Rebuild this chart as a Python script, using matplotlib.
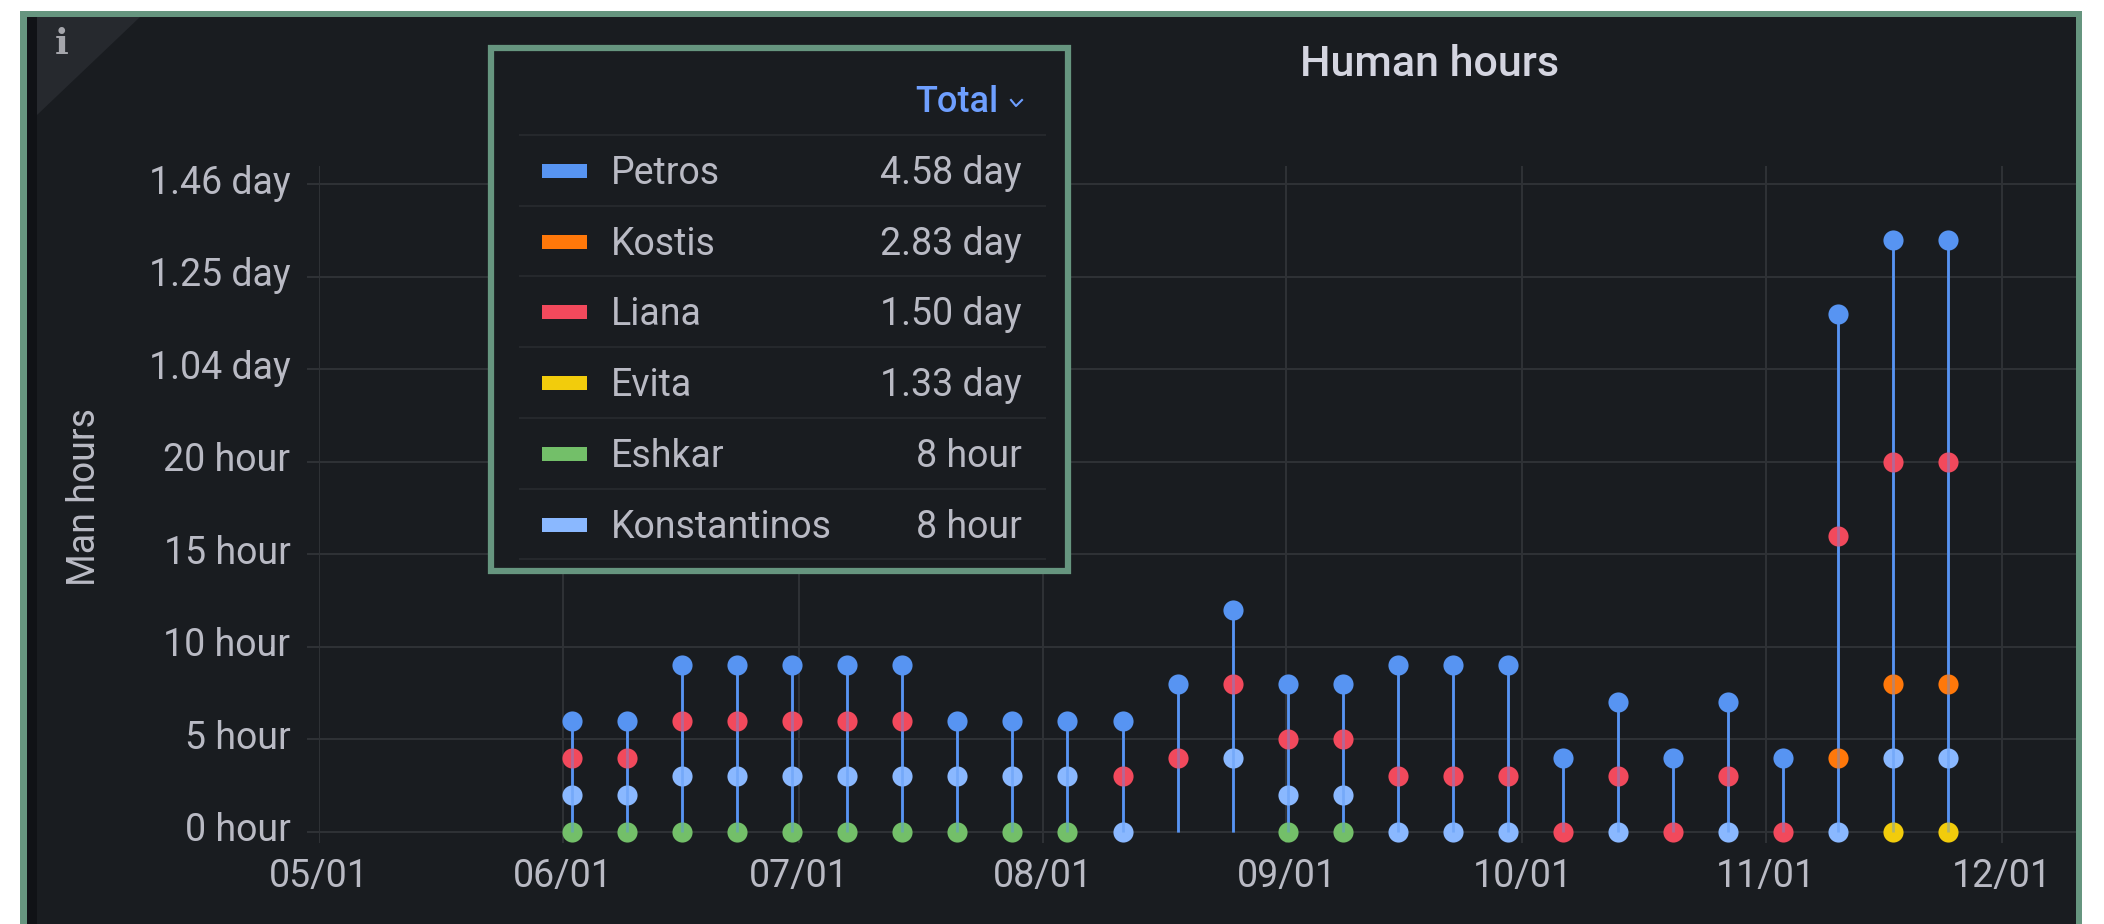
import matplotlib
matplotlib.use('Agg')
import matplotlib.dates as mdates
import matplotlib.pyplot as plt
import numpy as np
import pandas as pd
from matplotlib.patches import Polygon, Rectangle
from matplotlib.transforms import ScaledTranslation

plt.rcParams['font.family'] = ['Roboto', 'DejaVu Sans']

WIDTH, HEIGHT = 2104, 924

n = np.nan
weeks = pd.date_range('2022-06-02 04:00', periods=26, freq='7D')
petros = [6, 6, 9, 9, 9, 9, 9, 6, 6, 6, 6, 8, 12, 8, 8, 9, 9, 9, 4, 7, 4, 7, 4, 28, 32, 32]
kostis = [n, n, n, n, n, n, n, n, n, n, n, n, n, n, n, n, n, n, n, n, n, n, n, 4, 8, 8]
liana = [4, 4, 6, 6, 6, 6, 6, n, n, n, 3, 4, 8, 5, 5, 3, 3, 3, 0, 3, 0, 3, 0, 16, 20, 20]
evita = [n, n, n, n, n, n, n, n, n, n, n, n, n, n, n, n, n, n, n, n, n, n, n, n, 0, 0]
eshkar = [0, 0, 0, 0, 0, 0, 0, 0, 0, 0, n, n, n, 0, 0, n, n, n, n, n, n, n, n, n, n, n]
konstantinos = [2, 2, 3, 3, 3, 3, 3, 3, 3, 3, 0, n, 4, 2, 2, 0, 0, 0, n, 0, n, 0, n, 0, 4, 4]

names = ['Petros', 'Kostis', 'Liana', 'Evita', 'Eshkar', 'Konstantinos']
totals = ['4.58 day', '2.83 day', '1.50 day', '1.33 day', '8 hour', '8 hour']
colors = ['#5794F2', '#FF780A', '#F2495C', '#F2CC0C', '#73BF69', '#8AB8FF']

y_ticks = [0, 5, 10, 15, 20, 25, 30, 35]
y_labels = ['0 hour', '5 hour', '10 hour', '15 hour', '20 hour', '1.04 day', '1.25 day', '1.46 day']
x_ticks = ['2022-05-01', '2022-06-01', '2022-07-01', '2022-08-01',
           '2022-09-01', '2022-10-01', '2022-11-01', '2022-12-01']

PANEL = '#191C20'
FRAME = '#66957F'
GRID = '#2E3135'
TEXT = '#B9BAC4'


def pixel_axes(figure, zorder):
    axes = figure.add_axes([0, 0, 1, 1], zorder=zorder)
    axes.set_xlim(0, WIDTH)
    axes.set_ylim(HEIGHT, 0)
    axes.axis('off')
    return axes


figure = plt.figure(figsize=(WIDTH / 100, HEIGHT / 100), dpi=100, facecolor='white')

# panel behind the chart
back = pixel_axes(figure, 0)
back.add_patch(Rectangle((20, 11), 2062, 913, color=FRAME, lw=0))
back.add_patch(Rectangle((27, 17), 2049, 907, color=PANEL, lw=0))
back.add_patch(Rectangle((27, 17), 10, 907, color='#101216', lw=0))
back.add_patch(Polygon([(37, 17), (140, 17), (37, 115)], color='#26292E', lw=0))
back.text(62, 44, 'i', color='#A5A6AC', fontsize=26, fontweight='bold',
          family='DejaVu Serif', ha='center', va='center')
back.text(1430, 65, 'Human hours', color='#D4D5E0', fontsize=31, fontweight='medium',
          ha='center', va='center')

# main chart
left, right, top, bottom = 319, 2076, 166, 843
axes = figure.add_axes([left / WIDTH, 1 - bottom / HEIGHT, (right - left) / WIDTH,
                        (bottom - top) / HEIGHT], zorder=1)
axes.patch.set_alpha(0)
start = mdates.date2num(pd.Timestamp('2022-05-01'))
axes.set_xlim(start, start + (right - left) / 7.865)
axes.set_ylim(-0.6, 36)
for spine in axes.spines.values():
    spine.set_visible(False)
axes.grid(True, color=GRID, lw=1.5)
axes.set_axisbelow(True)
axes.set_xticks(mdates.date2num(pd.to_datetime(x_ticks)))
axes.xaxis.set_major_formatter(mdates.DateFormatter('%m/%d'))
axes.set_yticks(y_ticks, y_labels)
axes.tick_params(axis='y', length=8.6, width=1.5, color=GRID, pad=12, labelcolor=TEXT, labelsize=27)
axes.tick_params(axis='x', length=0, pad=11, labelcolor=TEXT, labelsize=27)
up = ScaledTranslation(0, 0.05, figure.dpi_scale_trans)
for label in axes.get_yticklabels():
    label.set_transform(label.get_transform() + up)
axes.set_ylabel('Man hours', color=TEXT, fontsize=27, va='center')
axes.yaxis.set_label_coords((84 - left) / (right - left), (bottom - 497) / (bottom - top))

x = mdates.date2num(weeks)
axes.vlines(x, 0, petros, color=colors[0], lw=2, zorder=2)
series = [petros, kostis, liana, evita, eshkar, konstantinos]
for values, name, colour in zip(series, names, colors):
    axes.plot(x, values, ls='none', marker='o', ms=14.5, mew=0, color=colour,
              label=name, zorder=3, clip_on=False)
axes.vlines(x, 0, petros, color=colors[0], lw=2, alpha=0.4, zorder=4)

# legend table
front = pixel_axes(figure, 2)
front.add_patch(Rectangle((491, 48), 577, 523, fc=PANEL, ec=FRAME, lw=4.5))
for row in range(7):
    y = 135 + row * 70.7
    front.plot([520, 1045], [y, y], color='#25282C', lw=1.5)
front.text(998, 102, 'Total', color='#6E9FFF', fontsize=26, fontweight='medium',
           ha='right', va='center')
front.plot([1011, 1016, 1022], [100, 106, 100], color='#6E9FFF', lw=1.5)
for row, (name, total, colour) in enumerate(zip(names, totals, colors)):
    y = 170 + row * 70.7
    front.add_patch(Rectangle((542, y - 6), 45, 14, color=colour, lw=0))
    front.text(611, y + 3.5, name, color=TEXT, fontsize=27, ha='left', va='center')
    front.text(1022, y + 3.5, total, color=TEXT, fontsize=27, ha='right', va='center')

figure.savefig('out.png', dpi=100)
